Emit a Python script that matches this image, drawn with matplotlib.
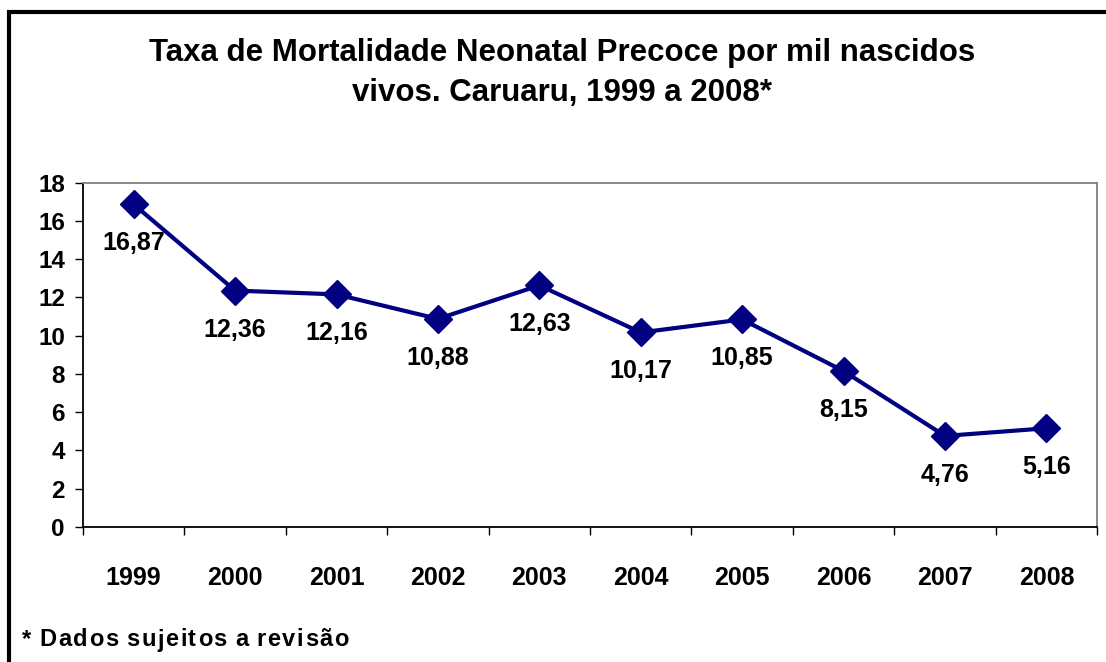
import numpy as np
import matplotlib.pyplot as plt
from matplotlib.patches import Rectangle

plt.rcParams['font.family'] = ['Liberation Sans', 'DejaVu Sans']

anos = ["1999", "2000", "2001", "2002", "2003", "2004", "2005", "2006", "2007", "2008"]
taxas = [16.87, 12.36, 12.16, 10.88, 12.63, 10.17, 10.85, 8.15, 4.76, 5.16]
rotulos = ["16,87", "12,36", "12,16", "10,88", "12,63", "10,17", "10,85", "8,15", "4,76", "5,16"]
nota = "* Dados sujeitos a revisão"

fig = plt.figure(figsize=(11.06, 6.62), dpi=100)
ax = fig.add_axes([0.075, 0.204, 0.917, 0.520])

x = np.arange(len(anos))
ax.plot(x, taxas, color="#000080", lw=3, marker="D", markersize=14,
        markerfacecolor="#000080", markeredgecolor="#000080", zorder=3)

for xi, yi, lab in zip(x, taxas, rotulos):
    ax.annotate(lab, (xi, yi), xytext=(0, -39), textcoords="offset pixels",
                ha="center", va="center", fontsize=18, fontweight="bold")

ax.set_xlim(-0.5, len(anos) - 0.5)
ax.set_ylim(0, 18)
ax.set_yticks(range(0, 19, 2))
ax.set_yticklabels([str(v) for v in range(0, 19, 2)], fontsize=17.5, fontweight="bold")
ax.set_xticks(x)
ax.set_xticklabels(anos, fontsize=18, fontweight="bold")
ax.set_xticks(np.arange(-0.5, len(anos), 1), minor=True)
ax.tick_params(axis="x", which="major", length=0, pad=28)
ax.tick_params(axis="x", which="minor", length=6, width=1, direction="out")
ax.tick_params(axis="y", length=6, width=1, direction="out", pad=7)

ax.spines["left"].set_color("black")
ax.spines["bottom"].set_color("black")
ax.spines["top"].set_color("#808080")
ax.spines["right"].set_color("#808080")
for s in ax.spines.values():
    s.set_linewidth(1.3)

fig.text(0.508, 0.920, "Taxa de Mortalidade Neonatal Precoce por mil nascidos",
         ha="center", va="center", fontsize=22.5, fontweight="bold")
fig.text(0.508, 0.860, "vivos. Caruaru, 1999 a 2008*",
         ha="center", va="center", fontsize=22.5, fontweight="bold")

# nota de rodapé com letras espaçadas
fig.canvas.draw()
renderer = fig.canvas.get_renderer()
xpos = 22
for ch in nota:
    t = fig.text(xpos / 1106, 1 - 640 / 662, ch, ha="left", va="center",
                 fontsize=17, fontweight="bold")
    w = t.get_window_extent(renderer).width if ch != " " else 5
    xpos += w + 1.6

# moldura da figura
fig.add_artist(Rectangle((9 / 1106, -0.05), 1.2, 1 - 12 / 662 + 0.05,
                         transform=fig.transFigure, fill=False,
                         edgecolor="black", lw=3))

fig.savefig("out.png", dpi=100)
